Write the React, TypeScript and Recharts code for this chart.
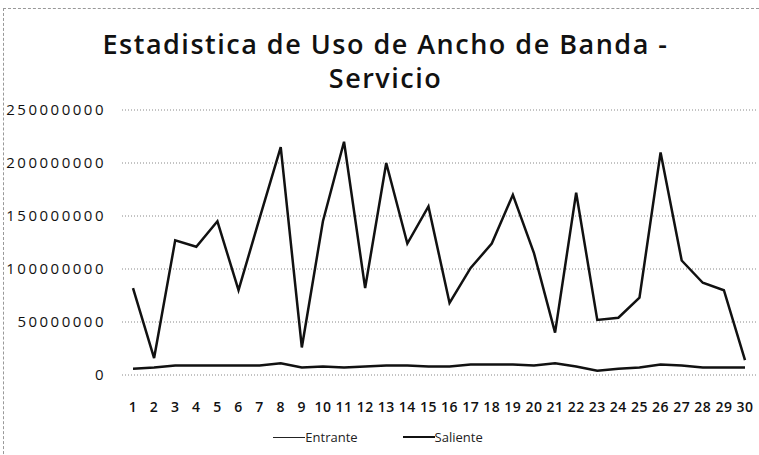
import { CartesianGrid, Legend, Line, LineChart, XAxis, YAxis } from "recharts";

const dias = [
  "1", "2", "3", "4", "5", "6", "7", "8", "9", "10",
  "11", "12", "13", "14", "15", "16", "17", "18", "19", "20",
  "21", "22", "23", "24", "25", "26", "27", "28", "29", "30",
];

const entrante = [
  82000000, 16000000, 127000000, 121000000, 145000000, 80000000, 148000000, 215000000, 26000000, 145000000,
  220000000, 82000000, 200000000, 124000000, 159000000, 68000000, 101000000, 124000000, 170000000, 115000000,
  40000000, 172000000, 52000000, 54000000, 73000000, 210000000, 108000000, 87000000, 80000000, 14000000,
];

const saliente = [
  6000000, 7000000, 9000000, 9000000, 9000000, 9000000, 9000000, 11000000, 7000000, 8000000,
  7000000, 8000000, 9000000, 9000000, 8000000, 8000000, 10000000, 10000000, 10000000, 9000000,
  11000000, 8000000, 4000000, 6000000, 7000000, 10000000, 9000000, 7000000, 7000000, 7000000,
];

const yTicks = [0, 50000000, 100000000, 150000000, 200000000, 250000000];

const data = dias.map((dia, i) => ({
  dia,
  Entrante: entrante[i],
  Saliente: saliente[i],
}));

const font = "'Open Sans', 'DejaVu Sans', sans-serif";

const LegendContent = () => (
  <div
    style={{
      display: "flex",
      justifyContent: "center",
      alignItems: "center",
      fontFamily: font,
      fontSize: 13,
      color: "#222",
      paddingTop: 13,
      paddingRight: 8,
    }}
  >
    <span style={{ display: "inline-block", width: 32, borderTop: "1.5px solid #222" }} />
    <span style={{ marginRight: 45 }}>Entrante</span>
    <span style={{ display: "inline-block", width: 32, borderTop: "2.5px solid #111" }} />
    <span>Saliente</span>
  </div>
);

export default function App() {
  return (
    <div
      style={{
        position: "absolute",
        left: 0,
        top: 0,
        width: 759,
        height: 455,
        background: "#fff",
        overflow: "hidden",
      }}
    >
      <div
        style={{
          position: "absolute",
          left: 3,
          top: 8,
          width: 760,
          height: 460,
          borderTop: "1px dashed #999",
          borderLeft: "1px dashed #999",
        }}
      />
      <div
        style={{
          position: "absolute",
          left: 0,
          top: 27,
          width: 759,
          textAlign: "center",
          fontFamily: font,
          fontSize: 27,
          fontWeight: 600,
          lineHeight: "34px",
          letterSpacing: 1.5,
          color: "#111",
          paddingLeft: 12,
          boxSizing: "border-box",
        }}
      >
        Estadistica de Uso de Ancho de Banda -<br />
        Servicio
      </div>
      <LineChart
        width={759}
        height={455}
        data={data}
        margin={{ top: 110, right: 3, bottom: 10, left: 8 }}
      >
        <CartesianGrid
          vertical={false}
          stroke="#888"
          strokeDasharray="1 2"
          horizontalValues={yTicks}
        />
        <XAxis
          dataKey="dia"
          interval={0}
          axisLine={false}
          tickLine={false}
          padding={{ left: 11, right: 11 }}
          height={40}
          tick={{ fontFamily: font, fontSize: 14, fontWeight: 600, fill: "#111", letterSpacing: 0.5 }}
          tickMargin={21}
        />
        <YAxis
          domain={[0, 250000000]}
          ticks={yTicks}
          interval={0}
          axisLine={false}
          tickLine={false}
          width={114}
          tick={{ fontFamily: font, fontSize: 15, fill: "#111", letterSpacing: 2.5 }}
          tickMargin={10}
        />
        <Legend verticalAlign="bottom" height={30} content={<LegendContent />} />
        <Line
          type="linear"
          dataKey="Entrante"
          stroke="#111"
          strokeWidth={2.5}
          dot={false}
          isAnimationActive={false}
        />
        <Line
          type="linear"
          dataKey="Saliente"
          stroke="#111"
          strokeWidth={2.5}
          dot={false}
          isAnimationActive={false}
        />
      </LineChart>
    </div>
  );
}
